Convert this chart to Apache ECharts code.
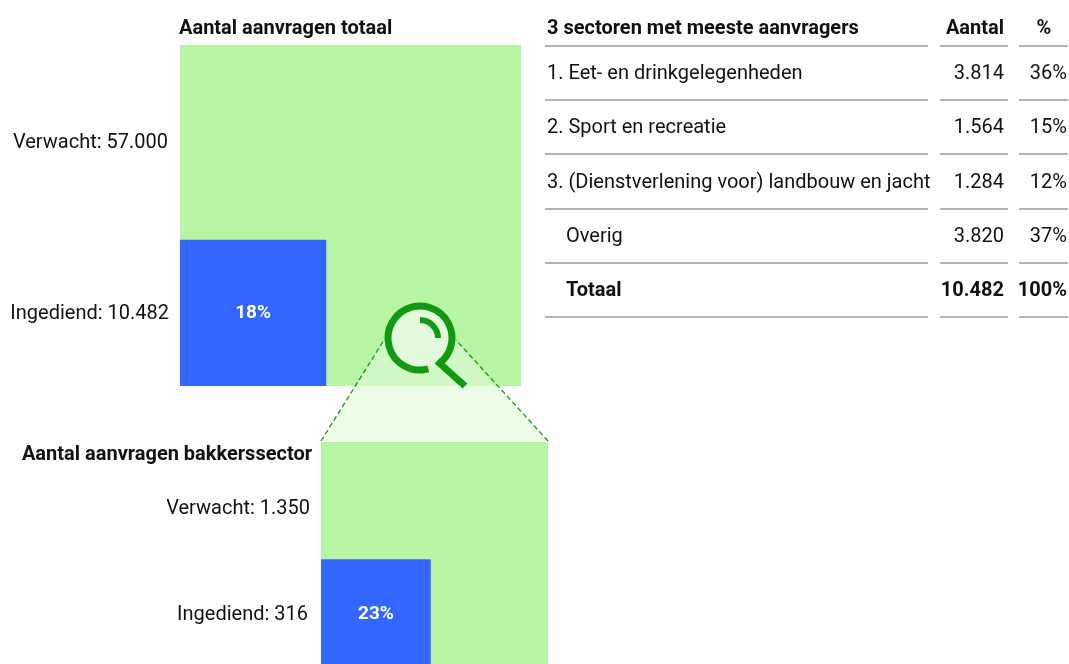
<!DOCTYPE html>
<html style='height: 100%'>
<head>
    <meta charset='utf-8'>
    <script src="https://cdn.jsdelivr.net/npm/echarts@6/dist/echarts.min.js"></script>
</head>
<body style='height: 100%; margin: 0; background: #fff'>
    <div id='container' style='height: 100%'></div>
    <script type="text/javascript">

// values
var expectedTotal = 57000, submittedTotal = 10482;
var expectedBakery = 1350, submittedBakery = 316;
var labelsTotal = ['Verwacht: 57.000', 'Ingediend: 10.482'];
var labelsBakery = ['Verwacht: 1.350', 'Ingediend: 316'];
var shareTotal = '18%', shareBakery = '23%';

var tableHeader = ['3 sectoren met meeste aanvragers', 'Aantal', '%'];
var sectorNames = ['1. Eet- en drinkgelegenheden', '2. Sport en recreatie', '3. (Dienstverlening voor) landbouw en jacht', 'Overig', 'Totaal'];
var sectorCounts = ['3.814', '1.564', '1.284', '3.820', '10.482'];
var sectorShares = ['36%', '15%', '12%', '37%', '100%'];

var FONT = 'Roboto';
var TEXT = '#111111', RULE = '#b8b4ac', GREEN = '#b7f4a4', BLUE = '#3366ff', MAG = '#109a10';

var dom = document.getElementById("container");
var myChart = echarts.init(dom);

// square side = sqrt(value), so area shows the count
function squareSeries(gridIndex, expected, submitted, share) {
    return {
        type: 'custom',
        coordinateSystem: 'cartesian2d',
        xAxisIndex: gridIndex,
        yAxisIndex: gridIndex,
        clip: false,
        silent: true,
        data: [[expected], [submitted]],
        renderItem: function (params, api) {
            var side = Math.sqrt(api.value(0));
            var origin = api.coord([0, 0]);
            var corner = api.coord([side, side]);
            var el = {
                type: 'rect',
                shape: { x: origin[0], y: corner[1], width: corner[0] - origin[0], height: origin[1] - corner[1] },
                style: { fill: params.dataIndex === 0 ? GREEN : BLUE }
            };
            if (params.dataIndex === 1) {
                el.textContent = {
                    type: 'text',
                    style: { text: share, fill: '#fff', font: 'bold 19px ' + FONT }
                };
                el.textConfig = { position: 'inside' };
            }
            return el;
        }
    };
}

function axis(gridIndex, min, max) {
    return { type: 'value', gridIndex: gridIndex, min: min, max: max, show: false };
}

function txt(x, y, s, bold, align) {
    return {
        type: 'text', x: x, y: y + 2, z: 100,
        style: {
            text: s, fill: TEXT, align: align || 'left', verticalAlign: 'middle',
            font: (bold ? 'bold ' : '') + '20px ' + FONT
        }
    };
}

function rule(x1, x2, y) {
    return {
        type: 'line', z: 100,
        shape: { x1: x1, y1: y, x2: x2, y2: y },
        style: { stroke: RULE, lineWidth: 2 }
    };
}

var graphics = [];

graphics.push(txt(179, 27, 'Aantal aanvragen totaal', true));
graphics.push(txt(168, 141, labelsTotal[0], false, 'right'));
graphics.push(txt(169, 312, labelsTotal[1], false, 'right'));
graphics.push(txt(312, 453, 'Aantal aanvragen bakkerssector', true, 'right'));
graphics.push(txt(310, 507, labelsBakery[0], false, 'right'));
graphics.push(txt(308, 613, labelsBakery[1], false, 'right'));

// table
var rowY = [72, 126, 181, 235, 289];
var ruleY = [46, 100, 154, 209, 263, 317];
graphics.push(txt(547, 27, tableHeader[0], true));
graphics.push(txt(1004, 27, tableHeader[1], true, 'right'));
graphics.push(txt(1044, 27, tableHeader[2], true, 'center'));
for (let i = 0; i < sectorNames.length; i++) {
    let isTotal = i === 4;
    graphics.push(txt(i > 2 ? 566 : 547, rowY[i], sectorNames[i], isTotal));
    graphics.push(txt(1004, rowY[i], sectorCounts[i], isTotal, 'right'));
    graphics.push(txt(1067, rowY[i], sectorShares[i], isTotal, 'right'));
}
for (let i = 0; i < ruleY.length; i++) {
    graphics.push(rule(545, 928, ruleY[i]));
    graphics.push(rule(940, 1008, ruleY[i]));
    graphics.push(rule(1019, 1068, ruleY[i]));
}

// magnifier with the funnel down to the bakery square
graphics.push({
    type: 'polygon', z: 90,
    shape: { points: [[385, 340], [455, 340], [548, 441], [321, 441]] },
    style: { fill: 'rgba(183,244,164,0.27)' }
});
graphics.push({
    type: 'polygon', z: 90,
    shape: { points: [[385, 340], [455, 340], [496, 386], [355, 386]] },
    style: { fill: 'rgba(255,255,255,0.38)' }
});
graphics.push({
    type: 'circle', z: 91,
    shape: { cx: 420, cy: 338, r: 32 },
    style: { fill: '#e2fadc' }
});
[[321, 441, 384, 340], [548, 441, 456, 340]].forEach(function (p) {
    graphics.push({
        type: 'line', z: 92,
        shape: { x1: p[0], y1: p[1], x2: p[2], y2: p[3] },
        style: { stroke: MAG, lineWidth: 1.3, lineDash: [5, 3] }
    });
});
graphics.push({
    type: 'arc', z: 93,
    shape: { cx: 420, cy: 338, r: 32, startAngle: 75 * Math.PI / 180, endAngle: 408 * Math.PI / 180, clockwise: true },
    style: { stroke: MAG, lineWidth: 7, fill: null }
});
graphics.push({
    type: 'arc', z: 93,
    shape: { cx: 420, cy: 338, r: 18, startAngle: -Math.PI / 2, endAngle: 0, clockwise: true },
    style: { stroke: MAG, lineWidth: 6, fill: null }
});
graphics.push({
    type: 'line', z: 93,
    shape: { x1: 437, y1: 361, x2: 465, y2: 386 },
    style: { stroke: MAG, lineWidth: 7 }
});

var sideTotal = Math.sqrt(expectedTotal), sideBakery = Math.sqrt(expectedBakery);

// bakery square runs 5px past the bottom of the page, grid stops at the edge
var option = {
    animation: false,
    backgroundColor: '#fff',
    grid: [
        { left: 180, top: 45, width: 341, height: 341 },
        { left: 321, top: 442, width: 227, height: 222 }
    ],
    xAxis: [axis(0, 0, sideTotal), axis(1, 0, sideBakery)],
    yAxis: [axis(0, 0, sideTotal), axis(1, sideBakery * 5 / 227, sideBakery)],
    series: [
        squareSeries(0, expectedTotal, submittedTotal, shareTotal),
        squareSeries(1, expectedBakery, submittedBakery, shareBakery)
    ],
    graphic: { elements: graphics }
};

myChart.setOption(option, true);
    </script>
</body>
</html>
